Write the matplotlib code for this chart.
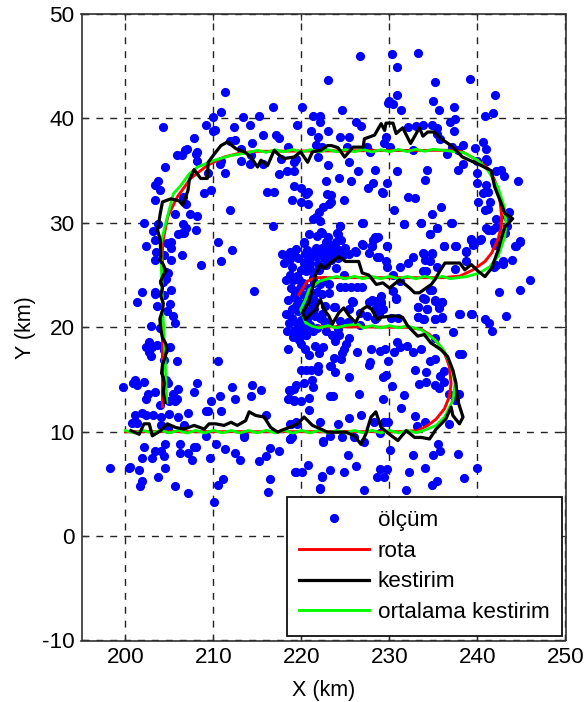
import numpy as np
import matplotlib
matplotlib.use("Agg")
import matplotlib.pyplot as plt

plt.rcParams['font.family'] = ['Liberation Sans', 'DejaVu Sans']
plt.rcParams['axes.unicode_minus'] = False

x_ticks = [200, 210, 220, 230, 240, 250]
y_ticks = [-10, 0, 10, 20, 30, 40, 50]
x_label = "X (km)"
y_label = "Y (km)"
legend_labels = ["ölçüm", "rota", "kestirim", "ortalama kestirim"]

meas_upper_left = [
 (211.3,42.5),(223,43.7),(210.9,40.6),(216.8,41.05),(220.1,41.05),(209.9,40.1),(213.4,40.1),(215.2,40.2),(221.3,40.2),(222.1,40.2),
 (222.1,39.7),(209.1,39.4),(204.3,39.2),(212.3,39.2),(214.2,39.4),(219.5,39.4),(210.2,38.9),(209.9,38.75),(221.1,38.75),(223,38.75),
 (215.6,38.4),(217.1,38.4),(217.5,38.1),(221.9,38.25),(207.8,38.1),(212.5,37.9),(211.9,37.8),(214.4,37.6),(221.6,37.45),(218.5,37.3),
 (213.1,37.1),(222.3,37.3),(207,37.1),(206.8,36.95),(208.1,36.8),(208,36.55),(205.8,36.45),(206.4,36.45),(214.3,36.45),(221.9,36.3),
 (208.1,35.95),(210.9,35.95),(210.7,35.65),(213.1,35.95),(214.1,35.65),(215.6,35.65),(217.7,36.1),(219.2,35.8),(219.4,36.1),(223,35.5),
 (204.5,35.3),(209.4,34.8),(211.3,34.8),(217.5,34.65),(218.3,34.95),(219.2,34.95),(203.7,34),(203.3,33.65),(203.9,33.15),(222.8,34),
 (219.1,33.5),(219.9,33.3),(220.7,33),(220.5,32.8),(222.9,32.8),(209.7,33.15),(208.9,32.85),(216.1,33),(216.9,33),(203.3,32.15),
 (206.5,32.5),(218.9,32.15),(219.9,32),(220.7,31.85),(223.1,31.85),(206.9,31.85),(222.4,31.5),(211.9,31.2),(205.6,30.85),(222,31),
 (221.7,30.55),(207.3,30.85),(208.1,30.65),(221.3,30.35),(222.1,30.2),(202.1,30),(203.7,29.85),(206.5,29.85),(216.8,29.7),(206.9,29.5),
 (208,29.35),(203.1,29.2),(206.4,29.05),(206,28.9),(206.7,29.05),(220.9,28.9),(222.3,29.05),(203.3,28.4),(204.7,28.05),(205.2,28.2),
 (210.5,28.2),(220.3,28.05),(202.3,27.75),(205.2,27.6),(203.5,27.25),(212.1,27.4),(220.8,27.2),(222.3,27.55),(206.4,26.9),(204.4,26.9),
 (218.3,26.9),(219.2,27.05),(221.9,26.9),(223,27.4),(203.3,26.45),(205.2,26.4),
]
meas_upper_right = [
 (226.6,45.95),(230.3,46.15),(233.25,46.3),(230.9,44.95),(235.2,43.5),(239.1,43.8),(230.9,42.2),(230,41.7),(229.85,41.5),(230.45,41.35),
 (231.3,40.85),(235,41.7),(235.6,40.85),(237.35,41.05),(242,42.2),(241.8,40.55),(240.8,40.2),(224.65,40.85),(226.2,39.7),(226.8,39.25),
 (236.9,39.7),(237.5,39.9),(232.1,39.15),(233.05,39.25),(233.85,39.4),(234.85,39.4),(235.4,39.1),(237.35,38.75),(224.4,38.25),(225.4,38.25),
 (229.6,38.2),(235.4,38.55),(235.7,38.05),(229.4,37.65),(240.65,37.75),(225.2,37.3),(227.5,37.3),(230.1,37.3),(237.15,37.3),(238.3,37.45),
 (239.7,37.15),(241,37.1),(227.75,36.8),(232.7,36.95),(236.55,36.6),(237.8,36.95),(239.9,35.95),(241,36.1),(241.05,35.95),(225.4,35.8),
 (238.3,35.65),(237.8,35.1),(234.25,35.1),(230.9,34.95),(228.4,35.1),(226.4,34.95),(239.9,34.8),(242.1,34.95),(242.65,35.1),(243,34.5),
 (224.25,34.3),(234.05,34.15),(225.65,34),(229.75,33.8),(228.15,33.8),(227.6,33.3),(244.6,34),(239.9,33.8),(241,33.65),(240.65,32.85),
 (241.25,33),(229.1,33),(229.3,32.85),(232.1,32.5),(232.85,32.35),(224.85,32.15),(223.4,32.65),(240.1,32),(241.45,32),(223.3,32),
 (235.8,31.55),(241.25,31.35),(240.85,31.2),(230.5,31.2),(234.8,30.85),(243.6,31),(243.4,30.6),(242.05,30.35),(227,30),(231.7,29.85),
 (233.6,30),(237,30),(224.4,29.7),(241.25,29.35),(242.1,29.6),(243.3,29.7),(235.4,29.5),(234.6,28.9),(224.1,28.9),(243.1,29),
 (228.5,28.55),(228.15,28.4),(239.3,28.4),(240.3,28.4),(244.8,28.2),(244.4,27.75),(239.5,27.9),(227,27.9),(228,27.75),(229.75,27.75),
 (236.2,27.75),(237.55,27.75),(242,27.9),(226.2,27.25),(238.7,27.25),(233.95,27.05),(234.85,27.05),(241.65,29.3),(241,29.5),(241.9,28.2),
]
meas_center = [
 (224.35,29.7),(226.9,30),(222.25,29.1),(221.8,28.75),(224,29),(224.45,28.35),(228.4,28.65),(220.25,28.15),(226.9,28),(228,27.8),
 (223.7,27.9),(222.55,27.55),(223.3,27.4),(222.15,27.4),(220.65,27.4),(218.7,27.2),(217.8,27),(220.45,27),(226.1,27.35),(225,27.55),
 (227.65,27.1),(218.7,26.5),(218,26.15),(228.6,26.7),(220.25,26.15),(222.55,26.6),(221,26.2),(219.9,25.5),(218.95,25.8),(218.75,25),
 (218.2,24.55),(219,24.5),(219.7,24.55),(221.2,25.35),(222,25.5),(224.8,25),(221.4,24.2),(222.15,24.1),(223.1,24.1),(224.35,23.9),
 (225,23.9),(225.6,23.85),(226.3,23.85),(226.9,23.85),(220.85,23.75),(220.85,23.15),(223.1,23.3),(222.35,23.15),(218.5,22.65),(219.5,22.6),
 (221.4,22.65),(225.75,22.5),(228,22.65),(229,23),(219.9,21.85),(218.95,20.9),(223.65,21.95),(220.45,21.4),(221.4,21.7),(222.7,22),
 (226.7,21.4),(228.4,21.7),(225.4,21.75),(224.4,20.6),(227.45,21.1),(219.5,20.3),(220.1,20),(218.4,19.65),(219.1,19.65),(221,20.2),
 (222.55,20.6),(228.4,20.75),(228.8,21.25),(226.7,20.2),(223,28.6),(222.8,28.2),(223.9,28.2),(223.2,27.9),(224.3,27.4),(222.9,26.9),
 (223.6,26.85),(221.5,26.8),(221.9,26.1),(220.9,25.8),(220.5,25.4),(221.3,24.7),(222.6,24.5),(220.2,24.2),(219.8,23.8),(220.6,22.9),
 (219.3,23.3),(221.8,23.4),(221.2,22.2),(220.2,22.2),(219.6,21.6),(220.6,20.8),(221.5,21.1),(219.9,20.7),(218.9,21.7),(222.3,21.3),
 (223.1,20.4),(225.3,20.5),(221.8,19.9),(222.8,19.6),(219.2,19.2),(220.5,19.3),(223.6,27.3),(222.7,27.05),(223.4,26.4),(224.1,26.6),
 (221.2,27.1),(221.7,27.6),(220.9,26.5),(219.6,26.6),(219.4,27.5),(224.7,26.9),(225.4,27),(223.9,25.7),(222.8,25.95),(219.5,24.9),
 (220.3,23.1),(219.1,22.9),(218.8,23.8),(219.4,22),(220.9,21.6),(222.1,20.9),(220.3,19.8),(219.6,19.7),(219.7,18.8),(221.3,19.6),
 (224.2,19.8),(223.5,19.3),(218.6,20.4),(218.2,21.3),
]
meas_right_center = [
 (231.7,29.85),(233.6,30),(235.4,29.55),(237.05,30),(234.55,28.9),(228.65,28.6),(229.7,27.8),(236.2,27.8),(237.5,27.8),(239.3,28.45),
 (239.6,28),(240.4,28.45),(238.75,27.3),(233.8,27.15),(234.85,27.15),(232.65,26.7),(234,26.45),(234.6,26.3),(228.8,26.7),(229.55,26.3),
 (232.1,26.15),(231.2,25.8),(229.7,25.75),(235.45,25.8),(234.1,25.35),(237.5,25.6),(238.75,26.3),(230.4,25.05),(231.2,24.4),(234.85,23.55),
 (230.7,22.75),(234,22.7),(235.2,22.55),(235.95,22.4),(235.6,21.85),(233.25,21.95),(234.25,21.75),(233.2,20.95),(233.9,20.75),(235.2,20.75),
 (236,20.9),(238,21.25),(239.35,21.25),(240.9,20.75),(241.3,20.45),(241.65,19.65),(243.2,21.1),(242.4,23.4),(244.8,23.55),(244.3,27.8),
 (244.8,28.3),(242.1,26),(242.9,26.3),(241.9,25.75),(237.2,19.55),(229.05,22.35),(229.3,21.7),(228.6,21),(230.95,20.9),(230.2,20.9),
 (246,24.5),(242.9,26.1),(243.9,26.4),
]
meas_lower_left = [
 (208.55,25.95),(210.9,26.3),(204.6,25.3),(204.8,25.15),(204.6,24.65),(204.3,24.35),(201.9,23.4),(203.3,23.4),(203.3,23.2),(204.4,23.1),
 (205.2,23.6),(214.6,23.45),(201.3,22.4),(203.6,22.05),(205.1,22.2),(204.7,21.6),(205.4,21.1),(205.6,20.4),(202.9,20.1),(203.9,19.95),
 (202.65,18.6),(203.6,18.3),(202.3,18.1),(203,18.1),(202.7,17.6),(202.9,17.2),(205.1,18.1),(204.4,17.85),(204.4,16.9),(205.85,16.75),
 (210.5,16.75),(201.1,14.95),(201.3,14.45),(200.9,14.65),(202.1,14.8),(199.75,14.3),(204.6,14.95),(204.85,14.65),(208.15,14.65),(212.1,14.3),
 (214.4,14.45),(215.4,13.95),(207.75,13.8),(206,14.1),(205.4,13.65),(203.3,13.8),(202.55,13.6),(202.3,13.15),(210.7,13.45),(212.45,13.1),
 (214.25,13.45),(209.7,12.95),(205.8,13.15),(204.9,12.95),(205.6,12.95),(203.9,12.6),(209.35,11.95),(209.1,11.95),(210.9,11.95),(207.15,11.8),
 (201.1,11.6),(201.9,11.8),(202.3,11.6),(203.1,11.6),(204.9,11.7),(204,11.45),(206,11.45),(216,11.6),(200.7,10.8),(201.3,10.8),
 (204,10.6),(206.6,10.6),(204.85,10.3),(209.1,9.6),(213.45,9.45),(213.45,9.65),(210.3,8.8),(204.45,8.8),(206.2,8.8),(207.8,8.55),
 (208,8.5),(202.1,8.5),(204,8.15),(203.3,8.15),(211.3,8.3),(212.45,8),(206.2,8),(207.15,8),(204.4,7.65),(203,7.5),
 (201.9,7.5),(207.6,7.3),(209.55,7.5),(213.05,7.3),(215.2,7.15),(216,7.65),(216.4,8.45),(217.4,8.15),(198.2,6.5),(200.5,6.6),
 (200.35,6.5),(201.5,6.3),(204.45,6.5),(201.9,5.3),(201.7,4.75),(203.7,5.65),(205.65,4.75),(207.15,4.1),(211.1,5.45),(210.5,4.9),
 (216.4,5.45),(216.2,4.25),(210.1,3.25),
]
meas_lower_right = [
 (218.7,9.3),(218.9,9.45),(219.35,6.15),(220.1,6.15),(220.7,6.8),(222.3,5.8),(223.2,6.3),(222.05,4.6),(218.7,10.75),(219.4,10.9),
 (218.7,13.9),(219.4,14.45),(219.2,14.1),(220.3,14.65),(221.3,14.3),(221.25,14.95),(218.5,13.1),(219.2,12.95),(219.95,12.95),(220.85,13.25),
 (220.85,12.1),(222.5,9.15),(223.25,13.4),(219.95,15.9),(220.5,15.9),(221.1,15.9),(221.9,16.25),(221.9,15.8),(223.2,16.25),(220.85,17.3),
 (218.45,17.95),(220,18.4),(220.35,17.95),(221.5,18.2),(221.95,17.55),(222.4,18.1),(219,19.1),(219.55,19.3),(220.5,19.3),(223.85,18.65),
 (224.3,19.3),(225.45,18.95),(225.05,18.35),(224.85,17.95),(224.65,17.55),(223.7,17.05),(224.5,17),(226.3,17.6),(227.9,17.95),(228.95,17.75),
 (229.5,17.95),(230.5,17.6),(230.85,18.6),(231.25,18.1),(232,18.25),(232.65,17.6),(233.6,17.95),(235.2,19),(238.2,17.4),(237.95,17.4),
 (229.85,16.75),(227.8,16.65),(227.7,16.4),(223.4,16.25),(223.8,15.75),(225.4,15.2),(229.6,15.45),(229.25,15.2),(232.85,15.9),(234.2,15.75),
 (234.6,16.75),(235.2,16.95),(236.15,15.85),(235.75,15.3),(235.2,14.45),(235.6,14.15),(236.25,14.8),(233.4,14.55),(234.2,14.75),(230.3,14.4),
 (231.7,13.55),(226.55,13.6),(223.6,13.4),(229.3,13.1),(231.3,12.25),(225.4,11.3),(226.75,11.6),(232.85,11.5),(222.1,10.95),(224.2,10.75),
 (228.2,10.95),(229.4,10.95),(229.8,10.95),(234,10.95),(233.15,10.5),(236.8,10.75),(237.95,13.6),(236.8,13.65),(237.4,13),(218.6,13.15),
 (219.15,13),(218.6,14),(218.8,10.75),(219.5,10.75),(218.7,9.3),(222.45,9.05),(223.25,9.55),(224.6,9.45),(226,9.45),(227.15,9.05),
 (228.9,9.85),(230.1,8.25),(225.25,7.75),(226.2,6.75),(232.65,7.75),(235.55,8.8),(235.75,8.15),(235,7.75),(237.75,7.9),(239.9,6.55),
 (234,6.55),(232.25,6.1),(219.3,6.1),(222.3,5.7),(224.8,6.1),(228.9,6.4),(229.7,6.4),(228.55,5.7),(229.35,5.7),(222.05,4.55),
 (227.15,4.4),(231.9,4.4),(235.35,5.3),(234.8,4.9),(238.5,5.55),(236,20.95),(235.2,20.8),(233.8,20.8),(233.2,20.95),(234.25,21.75),
 (233.2,21.9),(235.2,22.65),(236,22.45),(235.6,21.9),(234.6,23.6),(233.85,22.8),(233.85,25.4),(230.7,22.8),(230.35,23.5),(229,22.45),
 (228.3,22.55),(227.7,22.4),(225.8,22.4),(223.85,21.9),(237.95,21.25),(239.3,21.25),
]

route_pts = [
 (204.2,12.4),(204.2,20),(204.2,28),(204.8,30.6),(205.9,32.5),(207.4,34.25),(209.3,35.5),(211.2,36.3),(213.1,36.7),(215,36.85),
 (225,36.9),(236.6,36.95),(238.3,36.8),(240,36),(241.2,35.2),(241.95,34.1),(242.5,32.5),(242.75,30.6),(242.7,29.6),(242.3,28.35),
 (241.6,27.1),(240.85,26.3),(239.5,25.5),(238,24.9),(236.1,24.75),(228.5,24.75),(221.6,24.75),(220.65,24.4),(219.7,23.15),(np.nan,np.nan),
 (222,20.05),(232,20),(233.6,19.8),(234.55,19.3),(235.5,18.5),(236.25,17.55),(236.8,16.25),(237,14.6),(236.8,13.35),(236.25,12.2),
 (235.3,11.2),(234.35,10.6),(233.2,10.1),(231,10),(200,10),
]
estimate_pts = [
 (204.5,12.8),(204.3,13.8),(204.4,14.6),(204.3,15.2),(204.1,15.6),(204.2,16.4),(204.5,17.1),(204.7,17.9),(204.6,18.4),(204.2,19),
 (204,19.8),(203.9,20.8),(204.2,21.6),(204.3,22.3),(204,23),(204.2,23.8),(204,24.4),(204.3,25),(204.6,25.4),(204.3,26),
 (203.9,26.4),(204,26.75),(203.95,28.35),(203.65,29.3),(203.95,30.9),(204.2,32),(205.15,32.3),(206.1,32.1),(206.5,31.7),(207.1,33.1),
 (207.25,34.1),(207.8,35.1),(208.55,34.25),(209.3,34.25),(209.4,35.8),(210.1,36.6),(210.85,37.4),(211.6,37.75),(212.55,37.1),(213.5,36.8),
 (214.25,36.3),(215,35.35),(215.4,36),(216.15,35.5),(216.9,36.95),(217.3,36.6),(218,36.15),(219.15,36.3),(219.9,36.8),(220.7,35.8),
 (221.25,36.8),(222.2,36.95),(222.95,37.4),(223.4,37.4),(224.15,37.2),(224.9,36.3),(225.85,37.25),(227,37.25),(227.15,38.05),(228.3,38.4),
 (229.05,39.5),(229.45,38.85),(229.6,39.55),(230.4,39.55),(230.75,38.55),(231.5,39.1),(232.4,37.6),(233.4,39.1),(233.8,38.3),(234.35,38.7),
 (235.1,38.7),(235.85,38.05),(237,37.4),(238.3,36.3),(240.4,35.5),(241.55,35),(241.95,33.45),(242.7,31.85),(243.1,30.9),(244,30.4),
 (243.1,29.6),(242.75,28.65),(242.35,27.4),(241.6,25.65),(240.85,24.85),(240.1,25.35),(239.3,26),(238.55,25.5),(238,26.15),(237,26.15),
 (236.3,26.15),(235.7,25.35),(235.15,24.55),(234.75,24.1),(233.4,23.3),(232.85,23.3),(232.3,23.75),(231.15,24.55),(230,23.75),(229.25,24.25),
 (228.5,24.1),(227.65,25),(226.9,25.2),(226.5,26.3),(225.75,26.3),(225,26.3),(224.25,26.75),(223.5,26.3),(222.55,25.65),(222.15,26),
 (221.6,25),(221.2,23.6),(220.85,22.35),(220.1,21.4),(220.45,20.75),(221.2,21.4),(221.6,21.7),(222.15,22.65),(222.55,21.7),(223.1,21.1),
 (223.5,20.3),(224.25,21.4),(224.8,21.85),(225.4,21.1),(226.15,20.45),(226.9,21.7),(227.45,22),(228,21.7),(228.6,20.75),(229,20.95),
 (230.55,21.1),(231.5,20.95),(232.05,20.15),(233.2,19.15),(233.95,19.3),(234.7,18.5),(235.85,17.85),(236.6,17.2),(237.2,15.9),(237.55,14.65),
 (237.75,13),(238.35,11.4),(237.95,10.75),(237.2,11.55),(237,12.35),(236.4,11.2),(235.3,10.25),(234.55,9.3),(233.6,9.45),(232.85,9.45),
 (231.9,10.1),(230.95,9.15),(230,9.75),(229.05,10.4),(228.45,11.9),(227.9,11.4),(227.3,9.75),(226.75,8.8),(226,9.6),(225.05,9.95),
 (224.1,9.95),(222.95,9.95),(222.2,10.25),(221.25,10.6),(220.3,11.4),(219.55,10.75),(218.6,10.4),(217.65,10.1),(217.3,9.95),(216.5,10.4),
 (215.75,11.4),(214.8,11.55),(214.05,11.9),(213.65,11.05),(212.7,10.6),(212,10.9),(211.2,10.6),(210.25,10.75),(209.5,10.75),(208.95,10.25),
 (207.8,10.6),(206.65,10.25),(205.7,10.4),(204.75,10.75),(204,10.1),(203.05,9.6),(202.7,10.75),(202.1,10.75),(201.55,9.75),(200.6,10.1),
]
mean_estimate_pts = [
 (204.7,12.8),(204.6,14.5),(204.5,17),(204.4,19),(204.2,22),(204.1,25),(204,28),(204.85,30.9),(205.45,32.8),(206.3,33.6),
 (207.25,34.7),(208.2,35.35),(210.1,36),(212,36.45),(213.85,36.7),(215,36.95),(216,36.75),(217,37),(218,36.8),(219,37.02),
 (220,36.78),(221,37),(222,36.8),(223,37.02),(224,36.8),(225,37.03),(226,36.8),(227,37.02),(228,36.78),(229,37),
 (230,36.82),(231,37.03),(232,36.82),(233,37.05),(234,36.85),(235,37.05),(236.6,36.9),(238.5,36.7),(240,36),(241.2,35),
 (242.3,33.45),(243.05,31.5),(243.25,29.95),(243.1,28.65),(242.35,26.8),(241.4,25.8),(240.25,25.2),(238.75,24.85),(236.85,24.65),(236,24.88),
 (235,24.65),(234,24.88),(233,24.64),(232,24.87),(231,24.65),(230,24.88),(229,24.64),(228,24.87),(227,24.65),(226,24.88),
 (225,24.64),(224,24.87),(223,24.65),(222,24.4),(220.85,23.6),(220.45,22.65),(219.9,21.7),(220.45,20.45),(221.2,20.1),(222,19.93),
 (223,20.16),(224,19.94),(225,20.17),(226.4,20.3),(227,19.94),(228,20.16),(229,19.93),(230,20.16),(231,19.94),(232,20.12),
 (233.6,19.75),(235.1,18.85),(236.25,17.7),(237,16.25),(237.45,14.65),(237.2,13),(236.25,11.4),(235.3,10.6),(234,10.15),(233,9.9),
 (232,10.12),(231,9.88),(230,10.12),(229,9.88),(228,10.13),(227,9.88),(226,10.12),(225,9.87),(224,10.12),(223,9.88),
 (222,10.13),(221,9.88),(220,10.12),(219,9.87),(218,10.12),(217,9.88),(216,10.13),(215,9.88),(214,10.12),(213,9.87),
 (212,10.12),(211,9.88),(210,10.13),(209,9.88),(208,10.12),(207,9.87),(206,10.12),(205,9.88),(204,10.13),(203,9.88),
 (202,10.12),(201,9.87),(200,10.1),
]

measured = np.array(meas_upper_left + meas_upper_right + meas_center
                    + meas_right_center + meas_lower_left + meas_lower_right)
route = np.array(route_pts)
estimate = np.array(estimate_pts)
mean_estimate = np.array(mean_estimate_pts)

W, H = 587, 702
fig = plt.figure(figsize=(W/100, H/100), dpi=100)
ax = fig.add_axes([81.5/W, 1-640.5/H, 484/W, 626.5/H])

dark = '#303030'
ax.plot(measured[:,0], measured[:,1], linestyle='none', marker='o', markersize=6.6,
        color='#0000ff', markeredgewidth=0, label=legend_labels[0], zorder=2)
ax.plot(route[:,0], route[:,1], color='#ff0000', lw=2.1, label=legend_labels[1], zorder=3)
ax.plot(mean_estimate[:,0], mean_estimate[:,1], color='#00ff00', lw=2.0, zorder=4)
ax.plot(estimate[:,0], estimate[:,1], color='#000000', lw=2.3, label=legend_labels[2], zorder=5)
ax.plot([], [], color='#00ff00', lw=2.1, label=legend_labels[3])

ax.set_xlim(195, 250)
ax.set_ylim(-10, 50)
ax.set_xticks(x_ticks)
ax.set_yticks(y_ticks)
ax.grid(True, color='#222222', lw=1.0, linestyle=(0, (5, 5)), zorder=1)
ax.set_axisbelow(True)
ax.tick_params(direction='in', top=True, right=True, length=4, width=0.9, color=dark,
               labelsize=16.2, pad=5)
for s in ax.spines.values():
    s.set_linewidth(1.2)
    s.set_color(dark)
ax.set_xlabel(x_label, fontsize=15.5, labelpad=8)
ax.set_ylabel(y_label, fontsize=15.5, labelpad=4)

leg = ax.legend(loc='lower left',
                bbox_to_anchor=(286.7/W, 1-635.7/H),
                bbox_transform=fig.transFigure,
                borderaxespad=0, fontsize=16.2, frameon=True, fancybox=False, framealpha=1,
                edgecolor='#101010', handlelength=3.1, handletextpad=0.4,
                labelspacing=0.44, borderpad=0.55)
leg.get_frame().set_linewidth(1.3)
leg.set_zorder(10)

fig.savefig('out.png', dpi=100)
